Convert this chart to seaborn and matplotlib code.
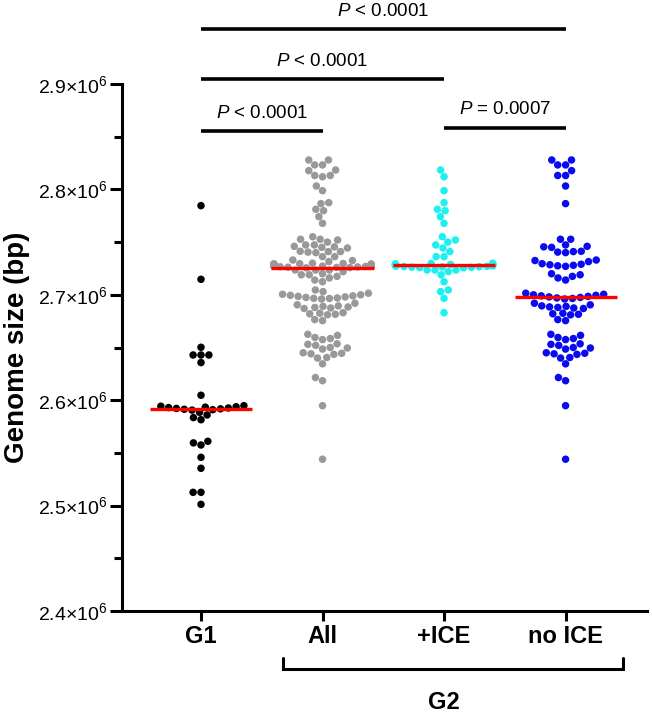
import numpy as np
import pandas as pd
import matplotlib
matplotlib.use("Agg")
import matplotlib.pyplot as plt
import seaborn as sns
from matplotlib.ticker import MultipleLocator, FuncFormatter

# ---------------- data ----------------
categories = ["G1", "All", "+ICE", "no ICE"]
colors = ["#000000", "#999999", "#1CF0F0", "#0A0AF0"]

g1 = [2784600, 2714700, 2650200, 2642900, 2642900, 2642900, 2635700, 2604700,
      2594800, 2594300, 2593800, 2593400, 2593000, 2592600,
      2592200, 2591800, 2591400, 2591000, 2590600,
      2588500, 2586000, 2583500, 2581500,
      2561000, 2559500, 2557500, 2545800, 2535400, 2512600, 2512600, 2501200]

plus_ice = [2818400, 2812000, 2798800, 2787400, 2781100, 2779800, 2774100, 2767800,
            2755100, 2752000, 2750000, 2747300, 2744400, 2741000,
            2736200, 2736200,
            2730000, 2729700, 2729500, 2729200, 2729000, 2728800, 2728600, 2728400,
            2728200, 2728000, 2727800, 2727600, 2727400, 2727200, 2727000, 2726800,
            2726600, 2726400, 2726200, 2726000, 2725800, 2725600,
            2723500, 2723500, 2723500,
            2722000, 2719000, 2712400, 2704600, 2703000, 2696600, 2683000]

no_ice = [2827900, 2827900, 2823200, 2823200, 2817800, 2813200, 2813200, 2803200, 2786500,
          2752700, 2752700,
          2747300, 2746000, 2745500, 2745000,
          2741300, 2741000, 2740500, 2740000,
          2733000, 2732500, 2731500,
          2729500, 2729000, 2728500, 2728000, 2727500, 2727000,
          2720000, 2719000, 2717500, 2716000, 2714000,
          2701500, 2700500, 2700000, 2699500, 2699000, 2698500, 2698000, 2697500,
          2697000, 2696500, 2696000,
          2692000, 2690500, 2689500, 2689000, 2688500, 2688000, 2687500, 2687000,
          2682500, 2682000, 2681500, 2681000,
          2676500, 2675500,
          2662500, 2661500, 2659500, 2658500, 2657500,
          2653500, 2653000, 2652000, 2650000, 2649500, 2648500,
          2645000, 2644500, 2644000, 2643500,
          2640500, 2640000,
          2634500,
          2621500, 2618500,
          2594800,
          2544000]

all_g2 = plus_ice + no_ice   # "All" G2 = +ICE together with no ICE

sig_pairs = [(0, 3), (0, 2), (0, 1), (2, 3)]
sig_labels = ["< 0.0001", "< 0.0001", "< 0.0001", "= 0.0007"]

# ---------------- style ----------------
sns.set_theme(style="ticks")
plt.rcParams["font.family"] = ["Liberation Sans", "DejaVu Sans"]
plt.rcParams["mathtext.fontset"] = "custom"
plt.rcParams["mathtext.rm"] = "Liberation Sans"
plt.rcParams["mathtext.it"] = "Liberation Sans:italic"
plt.rcParams["mathtext.bf"] = "Liberation Sans:bold"
for k in ["text.color", "axes.labelcolor", "xtick.color", "ytick.color", "axes.edgecolor"]:
    plt.rcParams[k] = "black"

groups = [g1, all_g2, plus_ice, no_ice]
df = pd.DataFrame({
    "group": sum([[c] * len(v) for c, v in zip(categories, groups)], []),
    "size": sum(groups, []),
})

W, H = 652, 717
fig = plt.figure(figsize=(W / 100, H / 100), dpi=100)
ax_l, ax_r, ax_t, ax_b = 122, 647, 84, 611
ax = fig.add_axes([ax_l / W, 1 - ax_b / H, (ax_r - ax_l) / W, (ax_b - ax_t) / H])

YMIN, YMAX = 2.4e6, 2.9e6
XMIN, XMAX = -0.65, 3.67

sns.swarmplot(data=df, x="group", y="size", hue="group", order=categories,
              hue_order=categories, palette=colors, size=5.4, linewidth=0,
              legend=False, warn_thresh=1.0, ax=ax, zorder=3)
sns.boxplot(data=df, x="group", y="size", order=categories, width=0.84,
            showbox=False, showcaps=False, showfliers=False, whis=0,
            whiskerprops={"visible": False},
            medianprops={"color": "#FF0000", "linewidth": 2.4},
            ax=ax)
for ln in ax.lines:
    ln.set_zorder(10)

ax.set_xlim(XMIN, XMAX)
ax.set_ylim(YMIN, YMAX)

# axes / ticks
ax.yaxis.set_major_locator(MultipleLocator(1e5))
ax.yaxis.set_minor_locator(MultipleLocator(5e4))
ax.yaxis.set_major_formatter(FuncFormatter(lambda v, p: r"$%.1f{\times}10^{6}$" % (v / 1e6)))
ax.tick_params(axis="y", which="major", length=8.6, width=2.2, labelsize=14, pad=2,
               color="black", labelcolor="black")
ax.tick_params(axis="y", which="minor", length=5.8, width=2.2, color="black")
ax.tick_params(axis="x", which="major", length=7, width=2.2, labelsize=17, pad=3,
               color="black", labelcolor="black")
for t in ax.get_xticklabels():
    t.set_fontweight("bold")
for s in ["top", "right"]:
    ax.spines[s].set_visible(False)
for s in ["left", "bottom"]:
    ax.spines[s].set_linewidth(2.2)
    ax.spines[s].set_color("black")
ax.spines["left"].set_bounds(YMIN, YMAX)
ax.set_xlabel("")
ax.set_ylabel("Genome size (bp)", fontsize=20, fontweight="bold", labelpad=6, color="black")

# significance bars
px = (YMAX - YMIN) / (ax_b - ax_t)  # data units per pixel
bar_px = [29, 79, 131, 128]
for (a, b), lab, bp in zip(sig_pairs, sig_labels, bar_px):
    y = YMAX + (ax_t - bp) * px
    ax.plot([a, b], [y, y], color="black", lw=2.6, clip_on=False, solid_capstyle="butt")
    ax.text((a + b) / 2, y + 18 * px, r"$P$ " + lab, ha="center", va="center",
            fontsize=13.5, color="black", clip_on=False)

# G2 bracket
yb = YMIN - (669 - ax_b) * px
ye = YMIN - (658 - ax_b) * px
ax.plot([0.675, 0.675, 3.47, 3.47], [ye, yb, yb, ye], color="black", lw=2.2,
        clip_on=False, solid_joinstyle="miter")
ax.text(2.0, YMIN - (703 - ax_b) * px, "G2", ha="center", va="center",
        fontsize=17, fontweight="bold", color="black", clip_on=False)

fig.savefig("out.png", dpi=100)
